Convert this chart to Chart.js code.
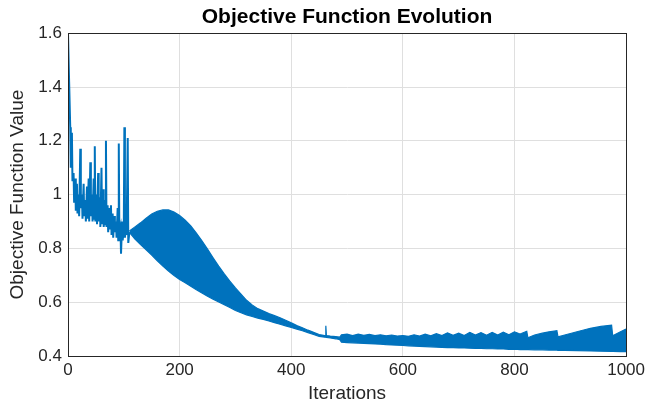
<!DOCTYPE html>
<html lang="en">
<head>
  <meta charset="UTF-8" />
  <title>Objective Function Evolution</title>
  <script src="https://cdn.jsdelivr.net/npm/chart.js"></script>
  <style>
    html, body { margin: 0; padding: 0; background: #ffffff; }
    #wrap { width: 649px; height: 412px; }
  </style>
</head>
<body>
  <div id="wrap"><canvas id="objChart" width="649" height="412"></canvas></div>

  <script>
    // tick labels
    const xTicks = [0, 200, 400, 600, 800, 1000];
    const yTicks = [0.4, 0.6, 0.8, 1.0, 1.2, 1.4, 1.6];

    // first ~110 iterations: noisy spiky part
    const earlyIter = [0, 2, 4, 5, 7, 8, 10, 11, 13, 14, 16, 17, 19, 20, 22, 23, 25, 26, 28, 29,
      31, 32, 34, 35, 37, 38, 40, 41, 43, 44, 46, 47, 48, 49, 51, 52, 54, 55, 57, 58,
      60, 61, 63, 64, 66, 67, 68, 69, 71, 72, 74, 75, 77, 78, 80, 81, 83, 84, 86, 87,
      89, 90, 91, 92, 94, 95, 97, 98, 100, 101, 102, 104, 105, 107, 108, 110];
    const earlyVal = [1.60, 1.42, 1.25, 1.10, 1.23, 1.05, 1.08, 0.97, 1.06, 0.94, 1.04, 0.93, 1.00, 0.92, 1.17, 0.95, 1.00, 0.91, 1.04, 0.92,
      0.98, 0.90, 1.03, 0.91, 1.06, 0.90, 1.12, 0.92, 1.00, 0.90, 1.06, 0.91, 1.18, 0.90, 1.00, 0.89, 1.08, 0.90, 0.99, 0.88,
      1.10, 0.89, 1.02, 0.88, 0.98, 0.89, 1.20, 0.88, 0.96, 0.86, 0.95, 0.87, 0.96, 0.85, 0.93, 0.84, 0.92, 0.86, 0.90, 0.84,
      0.95, 0.83, 1.19, 0.86, 0.88, 0.78, 0.90, 0.83, 0.88, 1.25, 0.84, 0.88, 0.85, 1.21, 0.82, 0.86];

    // after ~110 the curve oscillates fast: upper / lower envelope of the band
    const bandIter = [110, 120, 130, 140, 150, 160, 170, 180, 190, 200, 210, 220, 230, 240, 250, 260, 270, 280, 290, 300,
      310, 320, 330, 340, 350, 360, 370, 380, 390, 400, 410, 420, 430, 440, 450,
      460, 461, 462, 463, 470, 480, 487, 490,
      500, 510, 520, 530, 540, 550, 560, 570, 580, 590, 600, 610, 620, 630, 640, 650, 660, 670, 680, 690,
      700, 710, 720, 730, 740, 750, 760, 770, 780, 790, 800, 810,
      822, 824, 836, 850, 862, 876, 878, 890, 912, 936, 955, 974, 976, 990, 1000];
    const bandUpper = [0.865, 0.880, 0.895, 0.912, 0.928, 0.938, 0.943, 0.943, 0.935, 0.922, 0.905, 0.884, 0.857, 0.828, 0.797, 0.765, 0.734, 0.705, 0.678, 0.653,
      0.630, 0.607, 0.590, 0.576, 0.567, 0.558, 0.550, 0.542, 0.533, 0.523, 0.513, 0.505, 0.496, 0.488, 0.480,
      0.476, 0.476, 0.512, 0.476, 0.474, 0.472, 0.470, 0.479,
      0.481, 0.476, 0.481, 0.477, 0.480, 0.476, 0.479, 0.475, 0.478, 0.474, 0.476, 0.473, 0.479, 0.474, 0.481, 0.475, 0.483, 0.476, 0.486, 0.477,
      0.485, 0.476, 0.488, 0.478, 0.487, 0.477, 0.488, 0.478, 0.489, 0.479, 0.490, 0.482,
      0.492, 0.468, 0.478, 0.485, 0.490, 0.494, 0.471, 0.478, 0.490, 0.503, 0.510, 0.515, 0.475, 0.490, 0.500];
    const bandLower = [0.860, 0.835, 0.814, 0.795, 0.775, 0.754, 0.734, 0.716, 0.699, 0.684, 0.672, 0.659, 0.646, 0.634, 0.622, 0.611, 0.601, 0.591, 0.580, 0.569,
      0.561, 0.553, 0.547, 0.541, 0.536, 0.530, 0.524, 0.518, 0.512, 0.506, 0.500, 0.494, 0.487, 0.480, 0.473,
      0.470, 0.470, 0.470, 0.469, 0.467, 0.464, 0.461, 0.451,
      0.450, 0.449, 0.448, 0.447, 0.446, 0.445, 0.444, 0.442, 0.441, 0.440, 0.439, 0.438, 0.437, 0.436, 0.435, 0.434, 0.433, 0.432, 0.431, 0.431,
      0.430, 0.430, 0.429, 0.428, 0.428, 0.427, 0.427, 0.426, 0.426, 0.425, 0.425, 0.424,
      0.424, 0.424, 0.423, 0.423, 0.422, 0.422, 0.421, 0.421, 0.420, 0.419, 0.418, 0.417, 0.417, 0.416, 0.416];

    const BLUE = '#0072BD';
    const AXIS = '#262626';
    const GRID = '#dfdfdf';
    const FONT = 'Liberation Sans, Arial, sans-serif';

    const pts = (xs, ys) => xs.map((x, i) => ({ x, y: ys[i] }));

    // MATLAB-like box around the axes
    const boxPlugin = {
      id: 'box',
      afterDraw(chart) {
        const { ctx, chartArea: a } = chart;
        ctx.save();
        ctx.strokeStyle = AXIS;
        ctx.lineWidth = 1;
        ctx.strokeRect(Math.round(a.left) + 0.5, Math.round(a.top) + 0.5, Math.round(a.right - a.left), Math.round(a.bottom - a.top));
        ctx.restore();
      }
    };

    new Chart(document.getElementById('objChart'), {
      type: 'line',
      data: {
        datasets: [
          { data: pts(earlyIter, earlyVal), borderColor: BLUE, borderWidth: 2, fill: false },
          { data: pts(bandIter, bandLower), borderColor: BLUE, borderWidth: 1.2, fill: false },
          { data: pts(bandIter, bandUpper), borderColor: BLUE, borderWidth: 1.2, backgroundColor: BLUE, fill: '-1' }
        ]
      },
      options: {
        responsive: false,
        animation: false,
        layout: { padding: { left: 0, right: 19, top: 0, bottom: 0 } },
        elements: { point: { radius: 0 }, line: { tension: 0 } },
        plugins: {
          legend: { display: false },
          tooltip: { enabled: false },
          title: {
            display: true,
            fullSize: false,
            text: 'Objective Function Evolution',
            color: '#000000',
            font: { family: FONT, size: 21, weight: 'bold' },
            padding: { top: 5, bottom: 3 }
          }
        },
        scales: {
          x: {
            type: 'linear',
            min: 0, max: 1000,
            afterBuildTicks: s => { s.ticks = xTicks.map(v => ({ value: v })); },
            afterFit: s => { s.height = 56; },
            ticks: {
              color: AXIS, padding: 4,
              font: { family: FONT, size: 17 },
              callback: v => String(v)
            },
            grid: { color: GRID, drawTicks: false },
            border: { color: AXIS },
            title: {
              display: true, text: 'Iterations', color: AXIS,
              font: { family: FONT, size: 19 },
              padding: { top: 0, bottom: 7 }
            }
          },
          y: {
            type: 'linear',
            min: 0.4, max: 1.6,
            afterBuildTicks: s => { s.ticks = yTicks.map(v => ({ value: v })); },
            afterFit: s => { s.width = 68; },
            ticks: {
              color: AXIS, padding: 6,
              font: { family: FONT, size: 17 },
              callback: v => String(Math.round(v * 10) / 10)
            },
            grid: { color: GRID, drawTicks: false },
            border: { color: AXIS },
            title: {
              display: true, text: 'Objective Function Value', color: AXIS,
              font: { family: FONT, size: 19 },
              padding: { top: 6, bottom: 0 }
            }
          }
        }
      },
      plugins: [boxPlugin]
    });
  </script>
</body>
</html>
